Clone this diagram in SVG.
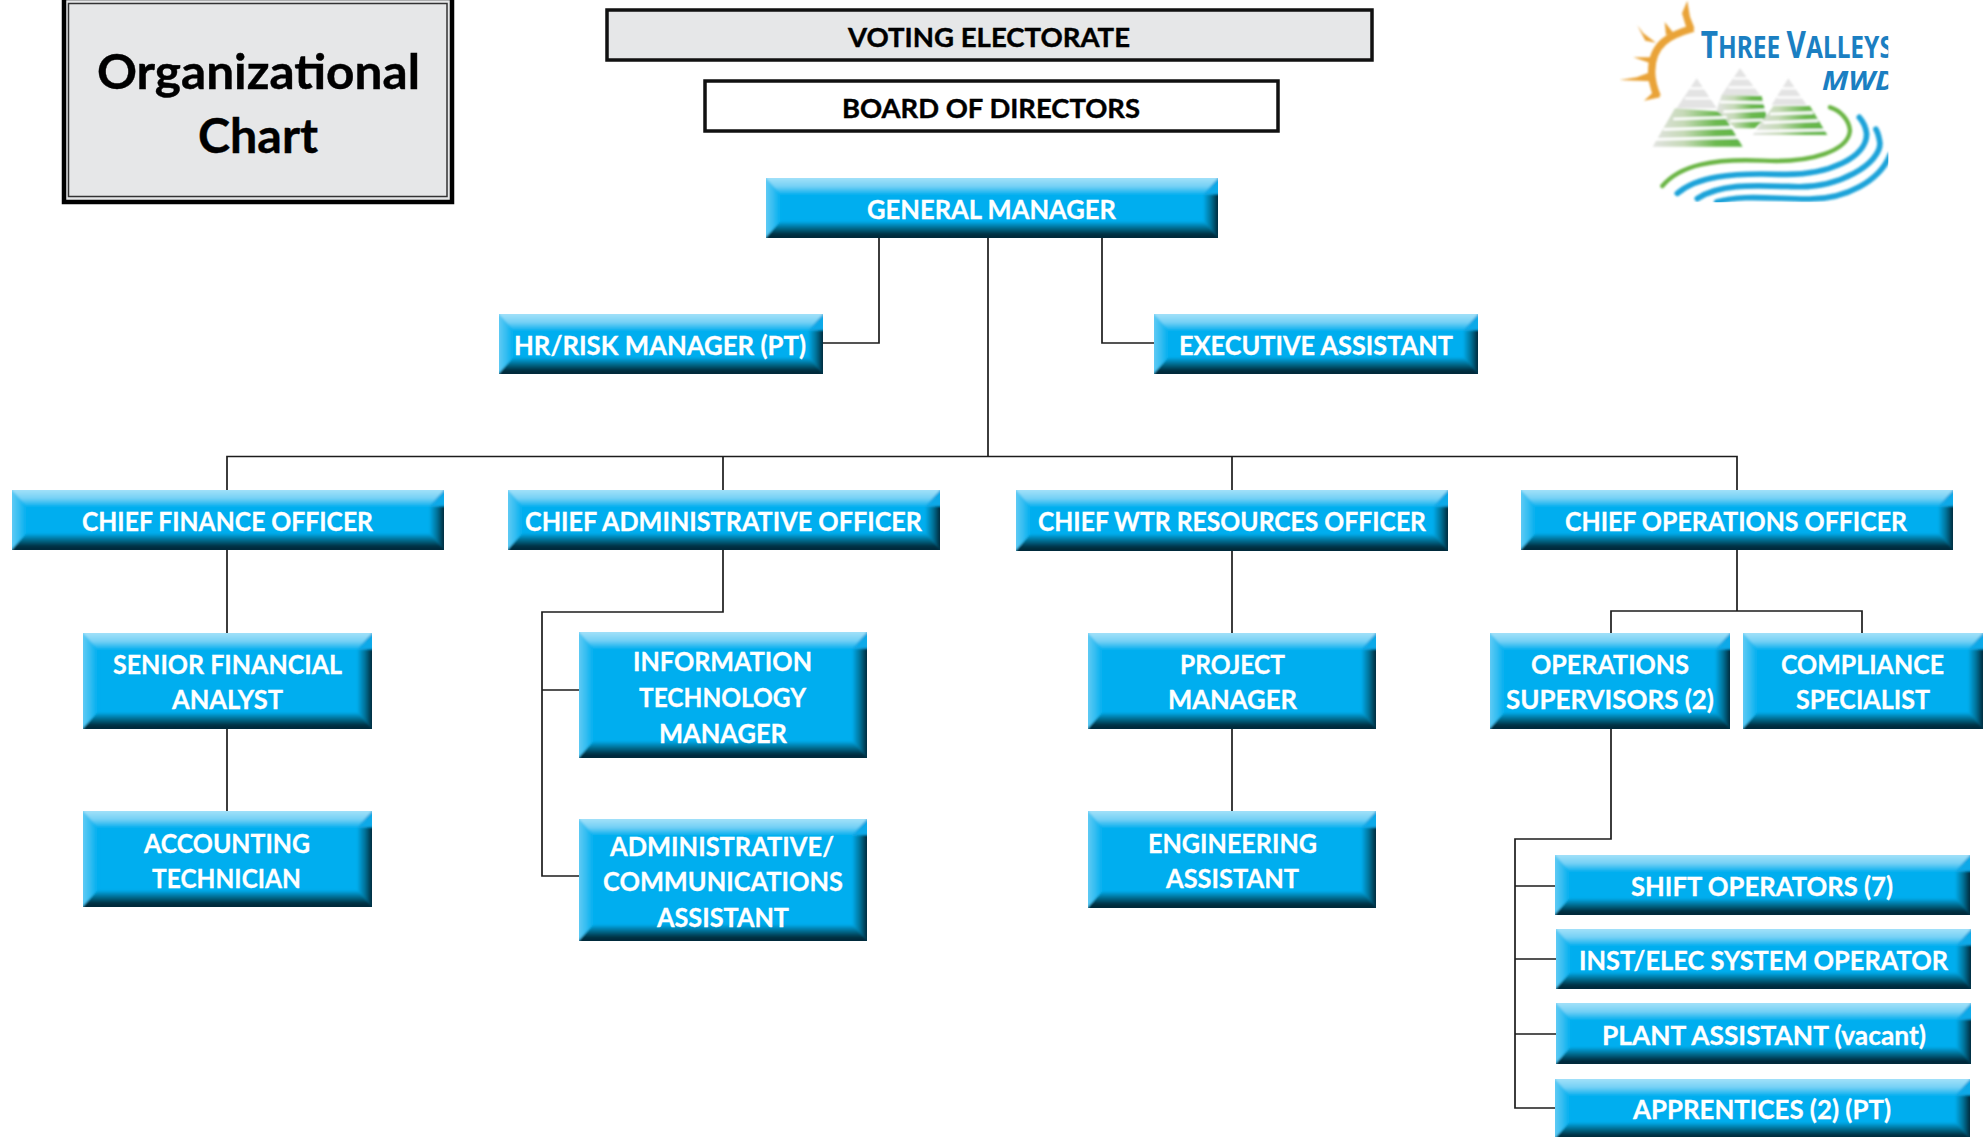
<svg xmlns="http://www.w3.org/2000/svg" width="1988" height="1137" viewBox="0 0 1988 1137">
<style>
.base{fill:#00aeef}
.tp{fill:url(#gT)}.lf{fill:url(#gL)}.rt{fill:url(#gR)}.bt{fill:url(#gB)}.cn{fill:#0fa9e8}
.t{font-family:"Lato","Open Sans","Liberation Sans",sans-serif;font-weight:700;font-size:27px;fill:#fff;stroke:#fff;stroke-width:.3px}
.k{font-family:"Lato","Open Sans","Liberation Sans",sans-serif;font-weight:700;fill:#000;stroke:#000;stroke-width:.4px}
.c{fill:none;stroke:#1c1c1c;stroke-width:1.7}
.box{stroke:#111;stroke-width:3.5}
</style>
<defs>
<filter id="bev" filterUnits="userSpaceOnUse" x="-20" y="-20" width="520" height="180"><feGaussianBlur stdDeviation="1.3"/></filter>
<linearGradient id="gT" x1="0" y1="0" x2="0" y2="1"><stop offset="0" stop-color="#a2e1f9"/><stop offset=".26" stop-color="#a2e1f9"/><stop offset=".63" stop-color="#74d0f5"/><stop offset="1" stop-color="#00aeef"/></linearGradient>
<linearGradient id="gL" x1="0" y1="0" x2="1" y2="0"><stop offset="0" stop-color="#5fcaf4"/><stop offset=".29" stop-color="#5fcaf4"/><stop offset="1" stop-color="#00aeef"/></linearGradient>
<linearGradient id="gR" x1="0" y1="0" x2="1" y2="0"><stop offset="0" stop-color="#00aeef"/><stop offset=".4" stop-color="#006f94"/><stop offset=".71" stop-color="#002b3c"/><stop offset="1" stop-color="#002b3c"/></linearGradient>
<linearGradient id="gB" x1="0" y1="0" x2="0" y2="1"><stop offset="0" stop-color="#00aeef"/><stop offset=".35" stop-color="#006282"/><stop offset=".6" stop-color="#002b3c"/><stop offset="1" stop-color="#002a3a"/></linearGradient>
<symbol id="b452" viewBox="0 0 452 60" preserveAspectRatio="none"><g filter="url(#bev)"><polygon class="tp" points="-6,-6 458,-6 437,17 15,17"/><polygon class="lf" points="-6,-6 15,17 15,43 -6,66"/><polygon class="rt" points="458,-6 437,17 437,43 458,66"/><polygon class="bt" points="15,43 437,43 458,66 -6,66"/><polygon class="cn" points="437,17 458,-6 458,16"/></g></symbol>
<symbol id="b432" viewBox="0 0 432 60" preserveAspectRatio="none"><g filter="url(#bev)"><polygon class="tp" points="-6,-6 438,-6 417,17 15,17"/><polygon class="lf" points="-6,-6 15,17 15,43 -6,66"/><polygon class="rt" points="438,-6 417,17 417,43 438,66"/><polygon class="bt" points="15,43 417,43 438,66 -6,66"/><polygon class="cn" points="417,17 438,-6 438,16"/></g></symbol>
<symbol id="b415" viewBox="0 0 415 60" preserveAspectRatio="none"><g filter="url(#bev)"><polygon class="tp" points="-6,-6 421,-6 400,17 15,17"/><polygon class="lf" points="-6,-6 15,17 15,43 -6,66"/><polygon class="rt" points="421,-6 400,17 400,43 421,66"/><polygon class="bt" points="15,43 400,43 421,66 -6,66"/><polygon class="cn" points="400,17 421,-6 421,16"/></g></symbol>
<symbol id="b324" viewBox="0 0 324 60" preserveAspectRatio="none"><g filter="url(#bev)"><polygon class="tp" points="-6,-6 330,-6 309,17 15,17"/><polygon class="lf" points="-6,-6 15,17 15,43 -6,66"/><polygon class="rt" points="330,-6 309,17 309,43 330,66"/><polygon class="bt" points="15,43 309,43 330,66 -6,66"/><polygon class="cn" points="309,17 330,-6 330,16"/></g></symbol>
<symbol id="b288" viewBox="0 0 288 96" preserveAspectRatio="none"><g filter="url(#bev)"><polygon class="tp" points="-6,-6 294,-6 273,17 15,17"/><polygon class="lf" points="-6,-6 15,17 15,79 -6,102"/><polygon class="rt" points="294,-6 273,17 273,79 294,102"/><polygon class="bt" points="15,79 273,79 294,102 -6,102"/><polygon class="cn" points="273,17 294,-6 294,16"/></g></symbol>
<symbol id="b240" viewBox="0 0 240 96" preserveAspectRatio="none"><g filter="url(#bev)"><polygon class="tp" points="-6,-6 246,-6 225,17 15,17"/><polygon class="lf" points="-6,-6 15,17 15,79 -6,102"/><polygon class="rt" points="246,-6 225,17 225,79 246,102"/><polygon class="bt" points="15,79 225,79 246,102 -6,102"/><polygon class="cn" points="225,17 246,-6 246,16"/></g></symbol>
<symbol id="b288t" viewBox="0 0 288 124" preserveAspectRatio="none"><g filter="url(#bev)"><polygon class="tp" points="-6,-6 294,-6 273,17 15,17"/><polygon class="lf" points="-6,-6 15,17 15,107 -6,130"/><polygon class="rt" points="294,-6 273,17 273,107 294,130"/><polygon class="bt" points="15,107 273,107 294,130 -6,130"/><polygon class="cn" points="273,17 294,-6 294,16"/></g></symbol>
<clipPath id="logoClip"><rect x="118" y="0" width="807" height="607"/></clipPath>
<filter id="soft" x="-5%" y="-5%" width="110%" height="110%"><feGaussianBlur stdDeviation="2.5"/></filter>
<linearGradient id="mtn" x1="0" y1="0" x2="1" y2="0"><stop offset="0" stop-color="#e2e3e1"/><stop offset=".35" stop-color="#c5d9b6"/><stop offset=".7" stop-color="#6cb94f"/><stop offset="1" stop-color="#5fb446"/></linearGradient>
</defs>
<rect width="1988" height="1137" fill="#fff"/>

<g id="connectors">
<path class="c" d="M988 238V456.500M227 490V456.500H1737V490M723 456.500V490M1232 456.500V490"/>
<path class="c" d="M879 238V343H823M1102 238V343H1154"/>
<path class="c" d="M227 550V633M227 729V811"/>
<path class="c" d="M723 550V612H542V876H579M542 690H579"/>
<path class="c" d="M1232 551V633M1232 729V811"/>
<path class="c" d="M1737 550V611M1611 633V611H1862V633"/>
<path class="c" d="M1611 729V839H1515V1108H1555M1515 886H1555M1515 959H1556M1515 1034H1556"/>
</g>

<g id="title">
<rect x="64" y="-2" width="388" height="204" fill="#e6e7e8" stroke="#000" stroke-width="4.5"/>
<rect x="68.500" y="3.500" width="378.500" height="193" fill="none" stroke="#333" stroke-width="1.5"/>
<text class="k" x="97" y="89" font-size="47" textLength="323" lengthAdjust="spacingAndGlyphs">Organizational</text>
<text class="k" x="198" y="153" font-size="47" textLength="120" lengthAdjust="spacingAndGlyphs">Chart</text>
</g>
<g id="voting">
<rect class="box" x="607" y="10" width="765" height="50" fill="#e6e7e8"/>
<text class="k" x="848" y="47" font-size="27" textLength="282" lengthAdjust="spacingAndGlyphs">VOTING ELECTORATE</text>
</g>
<g id="board">
<rect class="box" x="705" y="81" width="573" height="50" fill="#fff"/>
<text class="k" x="842" y="118" font-size="27" textLength="298" lengthAdjust="spacingAndGlyphs">BOARD OF DIRECTORS</text>
</g>

<g id="logo" transform="translate(1580 0) scale(.3333)">
<g clip-path="url(#logoClip)">
<g filter="url(#soft)">
<g fill="#e9a337">
<path fill="none" stroke="#e9a337" stroke-width="22" d="M340 85C270 105 215 130 215 215C215 240 222 265 232 290"/>
<polygon points="322,2 306,40 318,80 344,86 330,50"/>
<polygon points="254,66 258,105 280,98"/>
<polygon points="172,76 196,122 228,128 190,100"/>
<polygon points="160,172 212,190 214,172"/>
<polygon points="118,240 214,244 212,216 170,232"/>
<polygon points="192,302 240,292 226,262 214,282"/>
</g>
<g fill="#e3e3e3">
<polygon points="350,235 410,325 290,325"/><polygon points="480,205 540,285 425,285"/><polygon points="625,235 680,315 575,315"/>
</g>
<g stroke="#fff" stroke-width="7" fill="none">
<path d="M330 265L400 265M315 295L410 295M460 235L530 235M445 262L540 262M605 265L670 265M590 292L680 292"/>
</g>
<polygon fill="url(#mtn)" points="285,325 425,335 488,440 218,440"/>
<polygon fill="url(#mtn)" points="425,285 545,288 560,350 525,385 465,385 410,330"/>
<polygon fill="url(#mtn)" points="580,318 690,318 742,405 518,405"/>
<g stroke="#fff" stroke-width="8" fill="none">
<path d="M280 357L440 352M250 388L460 382M225 418L480 412"/>
<path d="M420 306L555 308M430 335L560 330M450 363L550 360"/>
<path d="M570 342L700 338M550 368L715 362M520 394L735 390"/>
</g>
<g fill="none" stroke-linecap="round">
<path stroke="#6ab545" stroke-width="13" d="M247 558C300 495 400 475 550 482C700 490 805 450 810 392C808 360 780 330 750 322"/>
<path stroke="#1ea3d9" stroke-width="17" d="M292 580C350 530 450 518 600 523C750 528 860 470 860 402C858 385 850 365 838 352"/>
<path stroke="#1ea3d9" stroke-width="17" d="M352 596C420 550 520 556 640 560C780 566 900 490 900 430C898 415 895 400 888 388"/>
<path stroke="#1ea3d9" stroke-width="17" d="M410 606C480 585 560 595 680 597C800 600 900 540 930 465"/>
</g>
</g>
<g font-family="'Noto Sans','Liberation Sans',sans-serif" font-weight="700" fill="#1b7fc2">
<text transform="translate(362 174) scale(.8 1)" font-size="112">T<tspan font-size="92">HREE </tspan>V<tspan font-size="92">ALLEYS</tspan></text>
<text transform="translate(726 270) scale(1.15 1)" font-size="78" font-style="italic">MWD</text>
</g>
</g>
</g>

<g id="general-manager"><rect class="base" x="766" y="178" width="452" height="60"/><use href="#b452" x="766" y="178" width="452" height="60"/><text class="t" x="867" y="219" textLength="249" lengthAdjust="spacingAndGlyphs">GENERAL MANAGER</text></g>
<g id="hr-risk"><rect class="base" x="499" y="314" width="324" height="60"/><use href="#b324" x="499" y="314" width="324" height="60"/><text class="t" x="514" y="355" textLength="292" lengthAdjust="spacingAndGlyphs">HR/RISK MANAGER (PT)</text></g>
<g id="exec-assistant"><rect class="base" x="1154" y="314" width="324" height="60"/><use href="#b324" x="1154" y="314" width="324" height="60"/><text class="t" x="1179" y="355" textLength="274" lengthAdjust="spacingAndGlyphs">EXECUTIVE ASSISTANT</text></g>

<g id="cfo"><rect class="base" x="12" y="490" width="432" height="60"/><use href="#b432" x="12" y="490" width="432" height="60"/><text class="t" x="82" y="531" textLength="291" lengthAdjust="spacingAndGlyphs">CHIEF FINANCE OFFICER</text></g>
<g id="cao"><rect class="base" x="508" y="490" width="432" height="60"/><use href="#b432" x="508" y="490" width="432" height="60"/><text class="t" x="525" y="531" textLength="397" lengthAdjust="spacingAndGlyphs">CHIEF ADMINISTRATIVE OFFICER</text></g>
<g id="cwro"><rect class="base" x="1016" y="490" width="432" height="61"/><use href="#b432" x="1016" y="490" width="432" height="61"/><text class="t" x="1038" y="531" textLength="388" lengthAdjust="spacingAndGlyphs">CHIEF WTR RESOURCES OFFICER</text></g>
<g id="coo"><rect class="base" x="1521" y="490" width="432" height="60"/><use href="#b432" x="1521" y="490" width="432" height="60"/><text class="t" x="1565" y="531" textLength="342" lengthAdjust="spacingAndGlyphs">CHIEF OPERATIONS OFFICER</text></g>

<g id="senior-analyst"><rect class="base" x="83" y="633" width="289" height="96"/><use href="#b288" x="83" y="633" width="289" height="96"/><text class="t" x="113" y="674" textLength="229" lengthAdjust="spacingAndGlyphs">SENIOR FINANCIAL</text><text class="t" x="172" y="709" textLength="111" lengthAdjust="spacingAndGlyphs">ANALYST</text></g>
<g id="accounting-tech"><rect class="base" x="83" y="811" width="289" height="96"/><use href="#b288" x="83" y="811" width="289" height="96"/><text class="t" x="144" y="853" textLength="166" lengthAdjust="spacingAndGlyphs">ACCOUNTING</text><text class="t" x="152" y="888" textLength="149" lengthAdjust="spacingAndGlyphs">TECHNICIAN</text></g>

<g id="it-manager"><rect class="base" x="579" y="632" width="288" height="126"/><use href="#b288t" x="579" y="632" width="288" height="126"/><text class="t" x="633" y="671" textLength="179" lengthAdjust="spacingAndGlyphs">INFORMATION</text><text class="t" x="639" y="707" textLength="167" lengthAdjust="spacingAndGlyphs">TECHNOLOGY</text><text class="t" x="659" y="743" textLength="128" lengthAdjust="spacingAndGlyphs">MANAGER</text></g>
<g id="admin-assistant"><rect class="base" x="579" y="819" width="288" height="122"/><use href="#b288t" x="579" y="819" width="288" height="122"/><text class="t" x="610" y="856" textLength="224" lengthAdjust="spacingAndGlyphs">ADMINISTRATIVE/</text><text class="t" x="603" y="891" textLength="240" lengthAdjust="spacingAndGlyphs">COMMUNICATIONS</text><text class="t" x="657" y="927" textLength="132" lengthAdjust="spacingAndGlyphs">ASSISTANT</text></g>

<g id="project-manager"><rect class="base" x="1088" y="633" width="288" height="96"/><use href="#b288" x="1088" y="633" width="288" height="96"/><text class="t" x="1180" y="674" textLength="105" lengthAdjust="spacingAndGlyphs">PROJECT</text><text class="t" x="1168" y="709" textLength="129" lengthAdjust="spacingAndGlyphs">MANAGER</text></g>
<g id="engineering-assistant"><rect class="base" x="1088" y="811" width="288" height="97"/><use href="#b288" x="1088" y="811" width="288" height="97"/><text class="t" x="1148" y="853" textLength="169" lengthAdjust="spacingAndGlyphs">ENGINEERING</text><text class="t" x="1166" y="888" textLength="133" lengthAdjust="spacingAndGlyphs">ASSISTANT</text></g>

<g id="ops-supervisors"><rect class="base" x="1490" y="633" width="240" height="96"/><use href="#b240" x="1490" y="633" width="240" height="96"/><text class="t" x="1531" y="674" textLength="158" lengthAdjust="spacingAndGlyphs">OPERATIONS</text><text class="t" x="1506" y="709" textLength="208" lengthAdjust="spacingAndGlyphs">SUPERVISORS (2)</text></g>
<g id="compliance"><rect class="base" x="1743" y="633" width="240" height="96"/><use href="#b240" x="1743" y="633" width="240" height="96"/><text class="t" x="1781" y="674" textLength="163" lengthAdjust="spacingAndGlyphs">COMPLIANCE</text><text class="t" x="1796" y="709" textLength="134" lengthAdjust="spacingAndGlyphs">SPECIALIST</text></g>

<g id="shift-operators"><rect class="base" x="1555" y="855" width="415" height="60"/><use href="#b415" x="1555" y="855" width="415" height="60"/><text class="t" x="1631" y="896" textLength="262" lengthAdjust="spacingAndGlyphs">SHIFT OPERATORS (7)</text></g>
<g id="inst-elec"><rect class="base" x="1556" y="929" width="415" height="60"/><use href="#b415" x="1556" y="929" width="415" height="60"/><text class="t" x="1579" y="970" textLength="369" lengthAdjust="spacingAndGlyphs">INST/ELEC SYSTEM OPERATOR</text></g>
<g id="plant-assistant"><rect class="base" x="1556" y="1003" width="415" height="61"/><use href="#b415" x="1556" y="1003" width="415" height="61"/><text class="t" x="1602" y="1045" textLength="324" lengthAdjust="spacingAndGlyphs">PLANT ASSISTANT (vacant)</text></g>
<g id="apprentices"><rect class="base" x="1555" y="1079" width="415" height="60"/><use href="#b415" x="1555" y="1079" width="415" height="60"/><text class="t" x="1633" y="1119" textLength="258" lengthAdjust="spacingAndGlyphs">APPRENTICES (2) (PT)</text></g>
</svg>
